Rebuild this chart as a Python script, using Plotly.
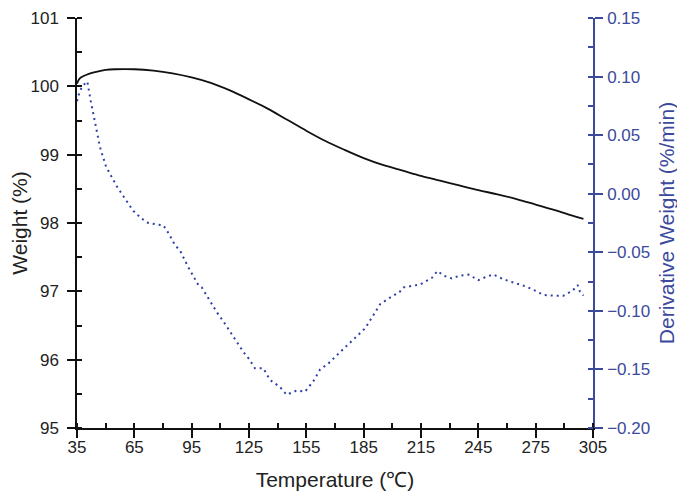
import plotly.graph_objects as go

# Weight (%) curve
temp_w = [35, 36, 37, 40, 45, 50, 55, 65, 75, 85, 95, 105, 115, 125, 135, 145, 155, 165,
          175, 185, 195, 205, 215, 225, 235, 245, 255, 265, 275, 285, 295, 300]
weight = [100.04, 100.10, 100.13, 100.17, 100.21, 100.24, 100.25, 100.25, 100.23, 100.19,
          100.13, 100.05, 99.94, 99.81, 99.67, 99.51, 99.35, 99.20, 99.07, 98.95, 98.85,
          98.77, 98.69, 98.62, 98.55, 98.48, 98.42, 98.35, 98.27, 98.19, 98.10, 98.06]

# Derivative weight (%/min) curve
temp_d = [35, 36.5, 38.5, 40.4, 42.2, 44.4, 47, 50.2, 55.8, 60, 64.5, 68, 71.5, 76, 80.2,
          83, 86.3, 88.9, 93, 98.5, 100.3, 104, 108.1, 112, 116.8, 122, 125, 128.1, 132.5,
          136, 141.2, 144.7, 147, 150, 154.3, 158.7, 162.2, 166.5, 170.9, 176.1, 181.4,
          185.7, 189.2, 193.6, 198.8, 203.7, 205.8, 210, 214.5, 220.6, 223.6, 227, 231.1,
          235, 239.8, 245, 249, 252.9, 258, 263.3, 270.3, 275, 279, 284, 289.5, 293,
          295.6, 297, 298.2, 300]
deriv = [0.079, 0.088, 0.093, 0.0958, 0.079, 0.060, 0.040, 0.023, 0.0064, -0.004, -0.0147,
         -0.020, -0.0246, -0.026, -0.027, -0.034, -0.044, -0.0485, -0.062, -0.078, -0.080,
         -0.090, -0.101, -0.110, -0.1216, -0.135, -0.141, -0.149, -0.149, -0.159, -0.165,
         -0.1716, -0.170, -0.168, -0.169, -0.160, -0.150, -0.145, -0.138, -0.130, -0.121,
         -0.115, -0.106, -0.0943, -0.0887, -0.084, -0.080, -0.079, -0.0775, -0.072,
         -0.066, -0.070, -0.0724, -0.070, -0.069, -0.0738, -0.071, -0.069, -0.073, -0.0758,
         -0.0794, -0.083, -0.0864, -0.087, -0.087, -0.084, -0.0808, -0.078, -0.0836, -0.087]

x_ticks = [35, 65, 95, 125, 155, 185, 215, 245, 275, 305]

BLUE_AX = "#3B4A9C"
BLUE_LN = "#2E3FA6"
FONT = "Liberation Sans, Arial, sans-serif"

fig = go.Figure()
fig.add_trace(go.Scatter(x=temp_w, y=weight, mode="lines",
                         line=dict(color="#111111", width=1.8, shape="spline"),
                         yaxis="y", showlegend=False))
fig.add_trace(go.Scatter(x=temp_d, y=deriv, mode="lines",
                         line=dict(color=BLUE_LN, width=2, dash="2px,4px"),
                         yaxis="y2", showlegend=False))

fig.update_layout(
    width=685, height=496,
    margin=dict(l=69, r=100, t=10, b=76),
    paper_bgcolor="white", plot_bgcolor="white",
    font=dict(family=FONT, size=17, color="#222222"),
    xaxis=dict(range=[35, 305], tickvals=x_ticks, ticks="outside", ticklen=8, tickwidth=1.5,
               tickcolor="#111111", showline=True, linecolor="#111111", linewidth=1.5,
               showgrid=False, zeroline=False, automargin=False, ticklabelstandoff=-5,
               ticklabeloverflow="allow",
               minor=dict(dtick=15, tick0=35, ticks="inside", ticklen=5, tickwidth=1.5,
                          tickcolor="#111111", showgrid=False),
               title=dict(text="Temperature (℃)", font=dict(size=21), standoff=16),
               tickfont=dict(size=17)),
    yaxis=dict(range=[95, 101], dtick=1, ticks="outside", ticklen=8, tickwidth=1.5,
               tickcolor="#111111", showline=True, linecolor="#111111", linewidth=1.5,
               showgrid=False, zeroline=False, automargin=False, ticklabelstandoff=5,
               ticklabeloverflow="allow",
               minor=dict(dtick=0.5, ticks="inside", ticklen=5, tickwidth=1.5,
                          tickcolor="#111111", showgrid=False),
               title=dict(text="Weight (%)", font=dict(size=21), standoff=15),
               tickfont=dict(size=17)),
    yaxis2=dict(range=[-0.2, 0.15], dtick=0.05, tickformat=".2f", overlaying="y", side="right",
                ticks="outside", ticklen=8, tickwidth=1.5, tickcolor=BLUE_AX,
                showline=True, linecolor=BLUE_AX, linewidth=1.5,
                showgrid=False, zeroline=False, automargin=False, ticklabelstandoff=1,
                ticklabeloverflow="allow",
                minor=dict(dtick=0.025, ticks="inside", ticklen=5, tickwidth=1.5,
                           tickcolor=BLUE_AX, showgrid=False),
                title=dict(text="Derivative Weight (%/min)", font=dict(size=21, color=BLUE_AX),
                           standoff=10),
                tickfont=dict(size=17, color=BLUE_AX)),
)

fig.write_html("out.html")
